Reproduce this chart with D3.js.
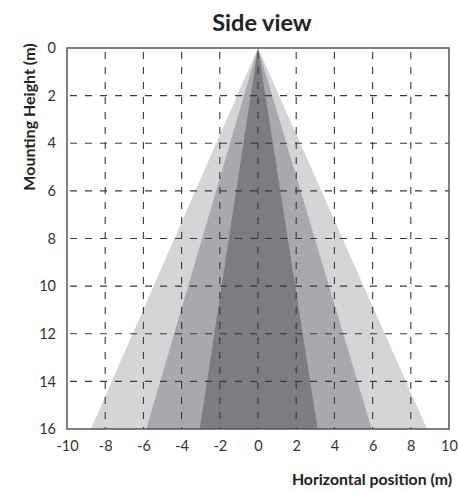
<!DOCTYPE html>
<html>
<head>
<meta charset="utf-8">
<script src="https://cdn.jsdelivr.net/npm/d3@7"></script>
<style>
  html, body { margin: 0; padding: 0; background: #fff; }
  svg { display: block; }
</style>
</head>
<body>
<script>
// ---- data ----
const zoneNames = ["outer", "middle", "inner"];
const zoneLeft  = [-8.75, -5.85, -3.05];   // horizontal position (m) at 16 m height
const zoneRight = [ 8.85,  5.95,  3.12];
const apexX = 0, apexY = 0, baseY = 16;
const xTicks = [-10, -8, -6, -4, -2, 0, 2, 4, 6, 8, 10];
const yTicks = [0, 2, 4, 6, 8, 10, 12, 14, 16];
const zoneColors = ["#d4d5d7", "#a8a9ac", "#7c7d80"];

const W = 458, H = 491;
const m = { left: 67, right: 9, top: 48, bottom: 62 };

const svg = d3.select("body").append("svg").attr("width", W).attr("height", H);

const x = d3.scaleLinear().domain([-10, 10]).range([m.left, W - m.right]);
const y = d3.scaleLinear().domain([0, 16]).range([m.top, H - m.bottom]);

const FONT = "Lato, 'Open Sans', sans-serif";

// title
svg.append("text")
  .attr("x", 262).attr("y", 31)
  .attr("text-anchor", "middle")
  .attr("font-family", FONT)
  .attr("font-weight", "bold")
  .attr("font-size", 23.5)
  .attr("fill", "#222")
  .text("Side view");

// zones
const line = d3.line().x(d => x(d[0])).y(d => y(d[1]));
svg.append("g").selectAll("path")
  .data(zoneNames.map((n, i) => ({ n, l: zoneLeft[i], r: zoneRight[i], c: zoneColors[i] })))
  .join("path")
  .attr("d", d => line([[apexX, apexY], [d.r, baseY], [d.l, baseY]]) + "Z")
  .attr("fill", d => d.c);

// grid
const grid = svg.append("g").attr("stroke", "#3a3a3a").attr("stroke-width", 1.1)
  .attr("stroke-dasharray", "7,8");
grid.selectAll("line.v").data(xTicks.slice(1, -1)).join("line")
  .attr("class", "v")
  .attr("x1", d => x(d)).attr("x2", d => x(d))
  .attr("y1", y(0) + 4).attr("y2", y(16));
grid.selectAll("line.h").data(yTicks.slice(1, -1)).join("line")
  .attr("class", "h")
  .attr("y1", d => y(d)).attr("y2", d => y(d))
  .attr("x1", x(-10) + 3).attr("x2", x(10));

// frame
svg.append("rect")
  .attr("x", x(-10)).attr("y", y(0))
  .attr("width", x(10) - x(-10)).attr("height", y(16) - y(0))
  .attr("fill", "none").attr("stroke", "#555").attr("stroke-width", 1.5);

// axes (labels only)
const fmt = d => String(d);
const xAxis = d3.axisBottom(x).tickValues(xTicks).tickFormat(fmt).tickSize(0).tickPadding(12);
const gx = svg.append("g").attr("transform", `translate(0,${y(16)})`).call(xAxis);
const yAxis = d3.axisLeft(y).tickValues(yTicks).tickFormat(fmt).tickSize(0).tickPadding(11);
const gy = svg.append("g").attr("transform", `translate(${x(-10)},0)`).call(yAxis);
[gx, gy].forEach(g => {
  g.select(".domain").remove();
  g.selectAll("text")
    .attr("font-family", FONT)
    .attr("font-size", 14.5)
    .attr("fill", "#333");
});

// axis titles
svg.append("text")
  .attr("x", 452).attr("y", 485)
  .attr("text-anchor", "end")
  .attr("font-family", FONT)
  .attr("font-weight", "bold")
  .attr("font-size", 15.8)
  .attr("fill", "#222")
  .text("Horizontal position (m)");

svg.append("text")
  .attr("transform", `translate(35,117) rotate(-90)`)
  .attr("text-anchor", "middle")
  .attr("font-family", FONT)
  .attr("font-weight", "bold")
  .attr("font-size", 16)
  .attr("fill", "#222")
  .text("Mounting Height (m)");
</script>
</body>
</html>
